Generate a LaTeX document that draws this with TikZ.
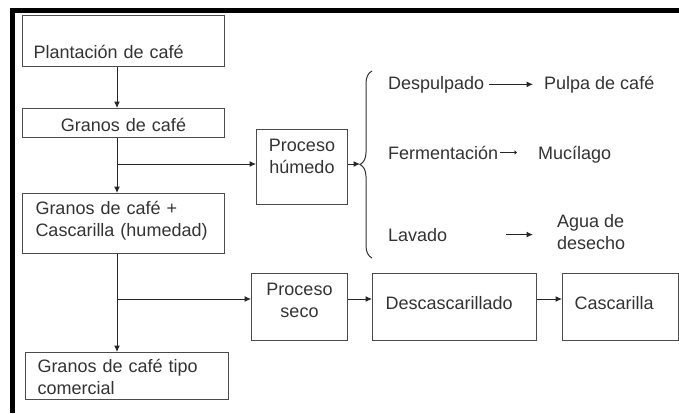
\documentclass[tikz,border=0pt]{standalone}
\usepackage{fontspec}
\setmainfont{Liberation Sans}
\usetikzlibrary{shapes,arrows,arrows.meta,decorations.pathreplacing}

\begin{document}
\begin{tikzpicture}[x=1pt, y=-1pt,
        box/.style={rectangle, draw=black!70, line width=1pt, anchor=north west, inner ysep=0pt, font=\fontsize{18}{22}\selectfont, text=black!80},
        line/.style={draw, black!85, line width=1pt, -{Latex[length=6.5pt,width=6pt]}},
        item/.style={inner sep=0pt, anchor=base west, font=\fontsize{18}{22}\selectfont, text=black!80}
    ]
        \useasboundingbox (0,0) rectangle (679,413);
        % Frame
        \draw[line width=4.5pt] (679,10.5) -- (12.5,10.5) -- (12.5,413);
        % Main column
        \node[box, text width=180pt, inner xsep=11pt, align=left, text height=43pt, text depth=8pt] (plantacion) at (22,15) {Plantación de café};
        \node[box, text width=180pt, inner xsep=11pt, align=center, text height=23pt, text depth=6pt] (granos) at (22,108) {Granos de café};
        \node[box, text width=176pt, inner xsep=13pt, align=left, text height=21pt, text depth=39pt] (cascara) at (22,193) {Granos de café +\\Cascarilla (humedad)};
        \node[box, text width=179pt, inner xsep=12pt, align=left, text height=20pt, text depth=27pt] (comercial) at (25,352) {Granos de café tipo\\comercial};
        % Processes
        \node[box, text width=91pt, inner xsep=0pt, align=center, text height=22pt, text depth=53pt] (humedo) at (256,129) {Proceso\\húmedo};
        \node[box, text width=96pt, inner xsep=0pt, align=center, text height=22pt, text depth=45pt] (seco) at (251,273) {Proceso\\seco};
        \node[box, text width=138pt, inner xsep=13pt, align=left, text height=36pt, text depth=31pt] (descas) at (372,273) {Descascarillado};
        \node[box, text width=92pt, inner xsep=12pt, align=left, text height=36pt, text depth=31pt] (cascarilla) at (562,273) {Cascarilla};
        % Wet process steps
        \node[item] (despulpado) at (388,89) {Despulpado};
        \node[item] (pulpa) at (544,89) {Pulpa de café};
        \node[item] (fermentacion) at (388,159) {Fermentación};
        \node[item] (mucilago) at (538,159) {Mucílago};
        \node[item] (lavado) at (388,241) {Lavado};
        \node[item, anchor=west, align=left] (agua) at (557,232) {Agua de\\desecho};
        % Helper coordinates
        \coordinate (trunk) at (117,0);
        \coordinate (hrow) at (0,164);
        \coordinate (srow) at (0,299);
        \coordinate (tip) at (360,164);
        % Connections
        \path[line] (plantacion.south -| trunk) -- (granos.north -| trunk);
        \path[line] (granos.south -| trunk) -- (cascara.north -| trunk);
        \path[line] (trunk |- hrow) -- (humedo.west |- hrow);
        \path[line] (humedo.east |- hrow) -- (tip);
        \draw[decorate, decoration={brace, amplitude=12pt}, black!80, line width=1pt] (372,258) -- (372,71);
        \path[line, shorten <=5pt, shorten >=11pt] (despulpado.east) -- (despulpado.east -| pulpa.west);
        \path[line, -{Latex[length=2.5pt,width=5pt]}, shorten <=2pt, shorten >=21pt] (fermentacion.east) -- (fermentacion.east -| mucilago.west);
        \path[line, shorten <=59pt, shorten >=24pt] (lavado.east) -- (lavado.east -| agua.west);
        \path[line] (cascara.south -| trunk) -- (comercial.north -| trunk);
        \path[line] (trunk |- srow) -- (seco.west |- srow);
        \path[line] (seco.east |- srow) -- (descas.west |- srow);
        \path[line] (descas.east |- srow) -- (cascarilla.west |- srow);
    \end{tikzpicture}
\end{document}
